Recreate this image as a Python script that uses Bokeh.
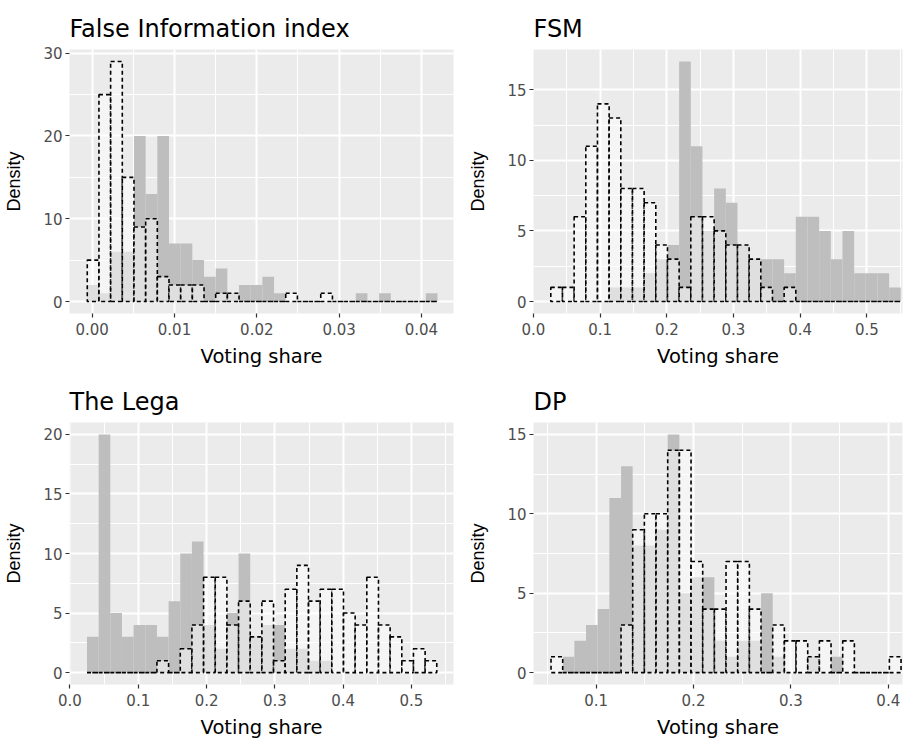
import numpy as np
from bokeh.plotting import figure
from bokeh.models import Range1d, FixedTicker, PrintfTickFormatter
from bokeh.layouts import row, column
from bokeh.embed import file_html
from bokeh.resources import INLINE

# ---------------- data ----------------
titles = ["False Information index", "FSM", "The Lega", "DP"]

# histogram bins: first left edge and bin width (30 bins each)
fii_bin_start, fii_bin_width = -0.0006, 0.0014185
fsm_bin_start, fsm_bin_width = 0.02595, 0.0175
lega_bin_start, lega_bin_width = 0.0249, 0.01707
dp_bin_start, dp_bin_width = 0.0537, 0.01198

fii_grey = [2, 1, 6, 6, 20, 13, 20, 7, 7, 5, 3, 4, 1, 2, 2, 3, 1, 0, 0, 0, 0, 0, 0, 1, 0, 1, 0, 0, 0, 1]
fii_dash = [5, 25, 29, 15, 9, 10, 3, 2, 2, 2, 0, 1, 1, 0, 0, 0, 0, 1, 0, 0, 1, 0, 0, 0, 0, 0, 0, 0, 0, 0]

fsm_grey = [0, 0, 0, 0, 0, 1, 1, 1, 2, 3, 4, 17, 11, 5, 8, 7, 4, 3, 3, 3, 2, 6, 6, 5, 3, 5, 2, 2, 2, 1]
fsm_dash = [1, 1, 6, 11, 14, 13, 8, 8, 7, 4, 3, 1, 6, 6, 5, 4, 4, 3, 1, 0, 1, 0, 0, 0, 0, 0, 0, 0, 0, 0]

lega_grey = [3, 20, 5, 3, 4, 4, 3, 6, 10, 11, 4, 2, 5, 10, 3, 4, 4, 2, 2, 1, 1, 0, 0, 0, 0, 0, 0, 0, 0, 0]
lega_dash = [0, 0, 0, 0, 0, 0, 1, 0, 2, 4, 8, 8, 4, 6, 3, 6, 1, 7, 9, 6, 7, 7, 5, 4, 8, 4, 3, 1, 2, 1]

dp_grey = [0, 1, 2, 3, 4, 11, 13, 8, 8, 9, 15, 5, 6, 6, 2, 1, 2, 2, 5, 1, 0, 0, 1, 0, 1, 0, 0, 0, 0, 0]
dp_dash = [1, 0, 0, 0, 0, 0, 3, 9, 10, 10, 14, 14, 7, 4, 4, 7, 7, 4, 0, 3, 2, 2, 1, 2, 0, 2, 0, 0, 0, 1]

fii_xticks = [0.00, 0.01, 0.02, 0.03, 0.04]
fii_xminor = [0.005, 0.015, 0.025, 0.035]
share_xticks = [0.0, 0.1, 0.2, 0.3, 0.4, 0.5]
share_xminor = [0.05, 0.15, 0.25, 0.35, 0.45, 0.55]

fii_yticks, fii_yminor = [0, 10, 20, 30], [5, 15, 25]
fsm_yticks, fsm_yminor = [0, 5, 10, 15], [2.5, 7.5, 12.5]
lega_yticks, lega_yminor = [0, 5, 10, 15, 20], [2.5, 7.5, 12.5, 17.5]
dp_yticks, dp_yminor = [0, 5, 10, 15], [2.5, 7.5, 12.5]

x_title = "Voting share"
y_title = "Density"

# ---------------- styling ----------------
PANEL_BG = "#EBEBEB"
GREY_FILL = "#BEBEBE"
FONT = "DejaVu Sans"
FONT2 = "Liberation Sans"


def panel(title, grey, dash, b_start, b_width, xr, yr, xt, xm, yt, ym, xfmt,
          w, h, mbl, mbr, mbt, mbb):
    p = figure(width=w, height=h, x_range=Range1d(*xr), y_range=Range1d(*yr),
               output_backend="svg", toolbar_location=None,
               min_border_left=mbl, min_border_right=mbr,
               min_border_top=mbt, min_border_bottom=mbb)
    p.background_fill_color = PANEL_BG
    p.border_fill_color = "white"
    p.outline_line_color = None

    edges = b_start + b_width * np.arange(len(grey) + 1)
    p.quad(left=edges[:-1], right=edges[1:], bottom=0, top=grey,
           fill_color=GREY_FILL, line_color=None)
    p.quad(left=edges[:-1], right=edges[1:], bottom=0, top=dash,
           fill_color="white", fill_alpha=0.5, line_color="black",
           line_dash="4 3", line_width=1.6)

    p.xaxis.ticker = FixedTicker(ticks=xt, minor_ticks=xm)
    p.yaxis.ticker = FixedTicker(ticks=yt, minor_ticks=ym)
    p.xaxis.formatter = PrintfTickFormatter(format=xfmt)
    p.yaxis.formatter = PrintfTickFormatter(format="%d")

    for g in (p.xgrid, p.ygrid):
        g.grid_line_color = "white"
        g.grid_line_width = 2
        g.minor_grid_line_color = "white"
        g.minor_grid_line_width = 1

    for ax in (p.xaxis, p.yaxis):
        ax.axis_line_color = None
        ax.major_tick_line_color = "#333333"
        ax.major_tick_line_width = 1.2
        ax.major_tick_in = 0
        ax.major_tick_out = 4
        ax.minor_tick_line_color = None
        ax.major_label_text_color = "#4D4D4D"
        ax.major_label_text_font = FONT
        ax.major_label_text_font_size = "15px"
        ax.axis_label_text_color = "black"
        ax.axis_label_text_font_style = "normal"

    p.xaxis.axis_label = x_title
    p.xaxis.axis_label_text_font = FONT
    p.xaxis.axis_label_text_font_size = "19.5px"
    p.xaxis.major_label_standoff = 5
    p.xaxis.axis_label_standoff = 7

    p.yaxis.axis_label = y_title
    p.yaxis.axis_label_text_font = FONT2
    p.yaxis.axis_label_text_font_size = "18px"
    p.yaxis.major_label_standoff = 3
    p.yaxis.axis_label_standoff = 16

    p.title.text = title
    p.title.align = "left"
    p.title.text_font = FONT
    p.title.text_font_size = "24px"
    p.title.text_font_style = "normal"
    p.title.text_color = "black"
    p.title.standoff = 13
    return p


p1 = panel(titles[0], fii_grey, fii_dash, fii_bin_start, fii_bin_width,
           (-0.00276, 0.0439), (-1.45, 30.45), fii_xticks, fii_xminor,
           fii_yticks, fii_yminor, "%.2f", 460, 370, 69, 7, 49, 55)
p2 = panel(titles[1], fsm_grey, fsm_dash, fsm_bin_start, fsm_bin_width,
           (0.0, 0.5535), (-0.85, 17.85), share_xticks, share_xminor,
           fsm_yticks, fsm_yminor, "%.1f", 447, 370, 73, 5, 49, 55)
p3 = panel(titles[2], lega_grey, lega_dash, lega_bin_start, lega_bin_width,
           (-0.0007, 0.5615), (-1.0, 21.0), share_xticks, share_xminor,
           lega_yticks, lega_yminor, "%.1f", 460, 371, 69, 7, 52, 52)
p4 = panel(titles[3], dp_grey, dp_dash, dp_bin_start, dp_bin_width,
           (0.0357, 0.4146), (-0.75, 15.75), share_xticks, share_xminor,
           dp_yticks, dp_yminor, "%.1f", 447, 371, 73, 5, 52, 52)

layout = column(row(p1, p2), row(p3, p4))
open("out.html", "w").write(file_html(layout, INLINE))
